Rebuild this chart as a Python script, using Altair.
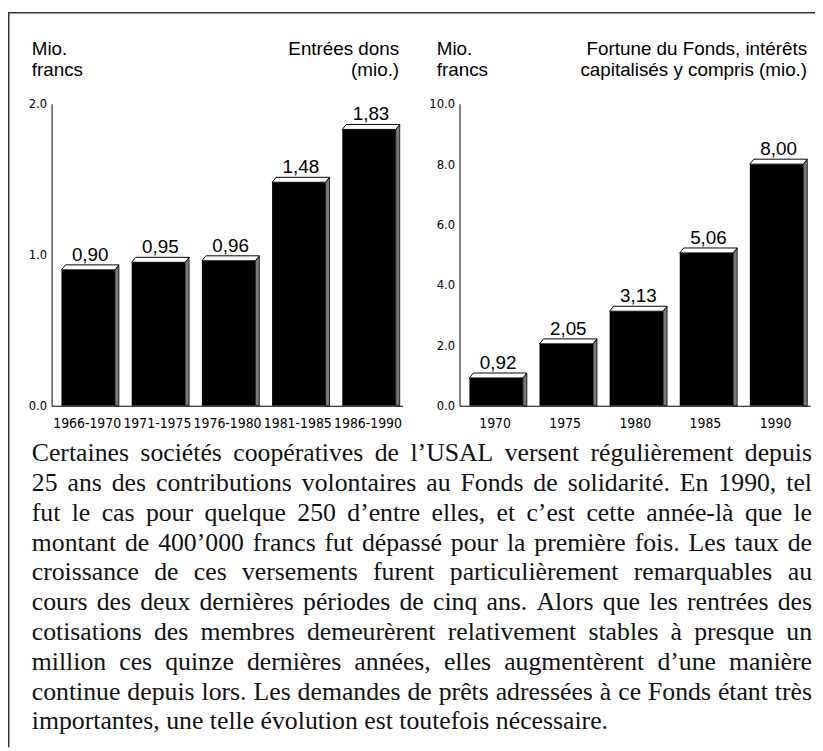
import json
import unicodedata
import altair as alt
import pandas as pd

# ---------------- data ----------------
left_categories = ["1966-1970", "1971-1975", "1976-1980", "1981-1985", "1986-1990"]
left_values = [0.90, 0.95, 0.96, 1.48, 1.83]
left_y_ticks = [0.0, 1.0, 2.0]
left_y_max = 2.0

right_categories = ["1970", "1975", "1980", "1985", "1990"]
right_values = [0.92, 2.05, 3.13, 5.06, 8.00]
right_y_ticks = [0.0, 2.0, 4.0, 6.0, 8.0, 10.0]
right_y_max = 10.0

left_unit = "Mio.\nfrancs"
left_title = "Entrées dons\n(mio.)"
right_unit = "Mio.\nfrancs"
right_title = "Fortune du Fonds, intérêts\ncapitalisés y compris (mio.)"

paragraph_lines = [
    "Certaines sociétés coopératives de l’USAL versent régulièrement depuis",
    "25 ans des contributions volontaires au Fonds de solidarité. En 1990, tel",
    "fut le cas pour quelque 250 d’entre elles, et c’est cette année-là que le",
    "montant de 400’000 francs fut dépassé pour la première fois. Les taux de",
    "croissance de ces versements furent particulièrement remarquables au",
    "cours des deux dernières périodes de cinq ans. Alors que les rentrées des",
    "cotisations des membres demeurèrent relativement stables à presque un",
    "million ces quinze dernières années, elles augmentèrent d’une manière",
    "continue depuis lors. Les demandes de prêts adressées à ce Fonds étant très",
    "importantes, une telle évolution est toutefois nécessaire.",
]

# ---------------- layout / style ----------------
W, H = 815, 743
BASE_Y, TOP_Y = 398, 93
LEFT_RANGE = [44, 398.5]
RIGHT_RANGE = [456, 810]
BAR_OFF, BAR_W, DEPTH_X, DEPTH_Y = 10, 54, 4, 5

SANS = "Liberation Sans, Arial, Helvetica, sans-serif"
NARROW = "Liberation Sans Narrow, Arial Narrow, DejaVu Sans Condensed, Liberation Sans, sans-serif"
SERIF = "Liberation Serif, Times New Roman, serif"


def panel(cats, vals, ymax, yticks, xr):
    n = len(cats)
    step = (xr[1] - xr[0]) / n
    off, bw, dxu = BAR_OFF / step, BAR_W / step, DEPTH_X / step
    dyu = DEPTH_Y * ymax / (BASE_Y - TOP_Y)

    x0 = [i + off for i in range(n)]
    x1 = [a + bw for a in x0]
    bars = pd.DataFrame({
        "cat": cats, "v": vals, "x0": x0, "x1": x1,
        "zero": [0.0] * n,
        "xc": [(a + b + dxu) / 2 for a, b in zip(x0, x1)],
    })

    top_rows, side_rows = [], []
    for c, v, a, b in zip(cats, vals, x0, x1):
        top_rows.append({"cat": c, "y": v, "xa": a, "xb": b})
        top_rows.append({"cat": c, "y": v + dyu, "xa": a + dxu, "xb": b + dxu})
        side_rows.append({"cat": c, "x": b, "ya": v, "yb": 0.0})
        side_rows.append({"cat": c, "x": b + dxu, "ya": v + dyu, "yb": 0.0})
    top_df = pd.DataFrame(top_rows)
    side_df = pd.DataFrame(side_rows)

    xscale = alt.Scale(domain=[0, n], range=xr, nice=False, zero=False)
    yscale = alt.Scale(domain=[0, ymax], range=[BASE_Y, TOP_Y], nice=False, zero=False)
    label_expr = json.dumps(cats) + "[round(datum.value - 0.5)]"
    xaxis = alt.Axis(orient="bottom", offset=BASE_Y - H, values=[i + 0.5 for i in range(n)],
                     labelExpr=label_expr, ticks=False, grid=False, domainColor="black",
                     domainWidth=1, labelFont=NARROW, labelFontSize=14, labelColor="black",
                     labelPadding=11, labelFlush=False, labelOverlap=False, title=None)
    yaxis = alt.Axis(orient="left", offset=-xr[0], values=yticks, format=".1f", ticks=False,
                     grid=False, domainColor="black", domainWidth=1, labelFont=NARROW,
                     labelFontSize=13, labelColor="black", labelPadding=5,
                     labelFlush=False, labelOverlap=False, title=None)

    front = alt.Chart(bars).mark_rect(color="black").encode(
        x=alt.X("x0:Q", scale=xscale, axis=xaxis), x2="x1",
        y=alt.Y("v:Q", scale=yscale, axis=yaxis), y2="zero")
    side = alt.Chart(side_df).mark_area(orient="vertical", fill="#7a7a7a", stroke="black",
                                        strokeWidth=0.8).encode(
        x=alt.X("x:Q", scale=xscale, axis=xaxis),
        y=alt.Y("ya:Q", scale=yscale, axis=yaxis, stack=None), y2="yb",
        detail="cat:N")
    top = alt.Chart(top_df).mark_area(orient="horizontal", fill="white", stroke="black",
                                      strokeWidth=1).encode(
        x=alt.X("xa:Q", scale=xscale, axis=xaxis, stack=None), x2="xb",
        y=alt.Y("y:Q", scale=yscale, axis=yaxis),
        detail="cat:N")
    labels = alt.Chart(bars).transform_calculate(
        label="replace(format(datum.v, '.2f'), '.', ',')"
    ).mark_text(font=SANS, fontSize=19, color="black", align="center",
                baseline="alphabetic", dy=-(DEPTH_Y + 4)).encode(
        x=alt.X("xc:Q", scale=xscale, axis=xaxis),
        y=alt.Y("v:Q", scale=yscale, axis=yaxis),
        text="label:N")
    return alt.layer(front, side, top, labels)


left_panel = panel(left_categories, left_values, left_y_max, left_y_ticks, LEFT_RANGE)
right_panel = panel(right_categories, right_values, right_y_max, right_y_ticks, RIGHT_RANGE)


def title_text(txt, px, py, align):
    return alt.Chart(pd.DataFrame({"t": [txt]})).mark_text(
        font=SANS, fontSize=19, color="black", align=align, baseline="alphabetic",
        lineBreak="\n", lineHeight=20.5).encode(
        x=alt.value(px), y=alt.value(py), text="t:N")


titles = [
    title_text(left_unit, 24, 44, "left"),
    title_text(left_title, 395, 44, "right"),
    title_text(right_unit, 433, 44, "left"),
    title_text(right_title, 807, 44, "right"),
]

# ---------------- justified paragraph ----------------
FS = 26
TIMES = {
    "a": 444, "b": 500, "c": 444, "d": 500, "e": 444, "f": 333, "g": 500, "h": 500,
    "i": 278, "j": 278, "k": 500, "l": 278, "m": 778, "n": 500, "o": 500, "p": 500,
    "q": 500, "r": 333, "s": 389, "t": 278, "u": 500, "v": 500, "w": 722, "x": 500,
    "y": 500, "z": 444,
    "A": 722, "B": 667, "C": 667, "D": 722, "E": 611, "F": 556, "G": 722, "H": 722,
    "I": 333, "J": 389, "K": 722, "L": 611, "M": 889, "N": 722, "O": 722, "P": 556,
    "Q": 722, "R": 667, "S": 556, "T": 611, "U": 722, "V": 722, "W": 944, "X": 722,
    "Y": 722, "Z": 611,
    ",": 250, ".": 250, "’": 333, "'": 180, "-": 333, "(": 333, ")": 333, " ": 250,
}


def text_width(word):
    total = 0
    for ch in word:
        if ch.isdigit():
            total += 500
            continue
        base = unicodedata.normalize("NFD", ch)[0]
        total += TIMES.get(base, 500)
    return total * FS / 1000.0


PX_LEFT, PX_RIGHT = 24, 812
BASELINE0, LEADING = 454, 30.1
rows = []
for li, line in enumerate(paragraph_lines):
    words = line.split(" ")
    widths = [text_width(w) for w in words]
    if li < len(paragraph_lines) - 1 and len(words) > 1:
        gap = (PX_RIGHT - PX_LEFT - sum(widths)) / (len(words) - 1)
    else:
        gap = 0.25 * FS
    x = PX_LEFT
    for w, wd in zip(words, widths):
        rows.append({"word": w, "px": x, "py": BASELINE0 + li * LEADING})
        x += wd + gap
para_df = pd.DataFrame(rows)

paragraph = alt.Chart(para_df).mark_text(
    font=SERIF, fontSize=FS, color="#111111", align="left", baseline="alphabetic").encode(
    x=alt.X("px:Q", scale=None), y=alt.Y("py:Q", scale=None), text="word:N")

border_top = alt.Chart(pd.DataFrame({"a": [0]})).mark_rule(color="#333333", strokeWidth=1.5).encode(
    x=alt.value(0), x2=alt.value(W), y=alt.value(1))
border_left = alt.Chart(pd.DataFrame({"a": [0]})).mark_rule(color="#333333", strokeWidth=1.5).encode(
    x=alt.value(0.75), y=alt.value(1), y2=alt.value(H))

chart = alt.layer(
    left_panel, right_panel, *titles, paragraph, border_top, border_left
).resolve_scale(x="independent", y="independent").properties(
    width=W, height=H, autosize=alt.AutoSizeParams(type="none"), padding=0
).configure_view(stroke=None)

chart.save("out.html", embed_options={"renderer": "svg", "actions": False})
